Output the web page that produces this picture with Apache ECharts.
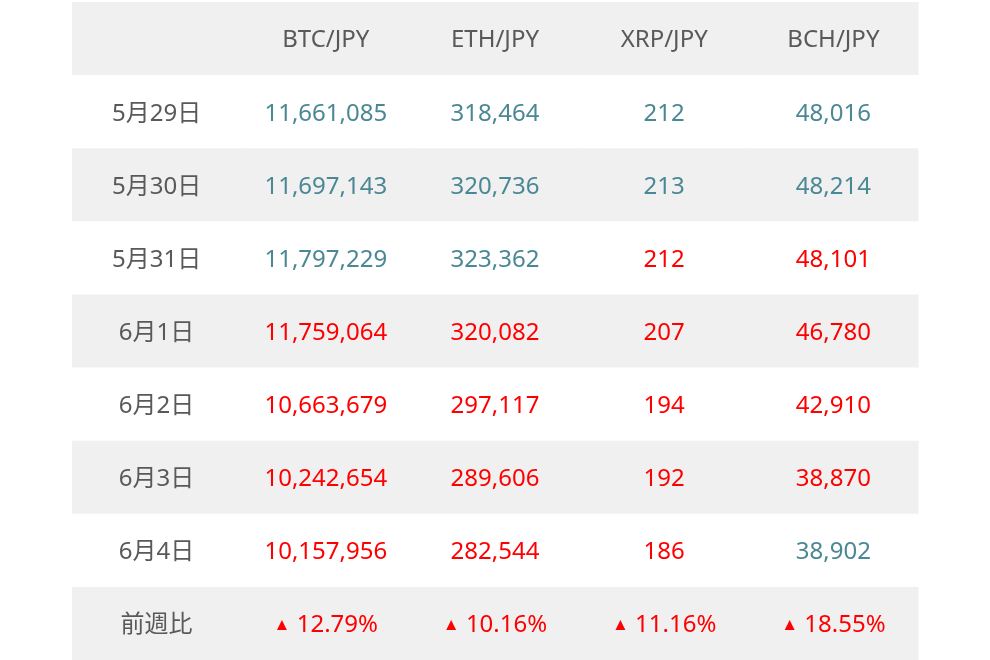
<!DOCTYPE html>
<html><head><meta charset="utf-8">
<script src="https://cdn.jsdelivr.net/npm/echarts@6/dist/echarts.min.js"></script>
<style>html,body{margin:0;background:#fff}#main{width:990px;height:660px}</style>
</head><body><div id="main"></div>
<script>
// table content
const columns = ['', 'BTC/JPY', 'ETH/JPY', 'XRP/JPY', 'BCH/JPY'];
const dates = ['5月29日', '5月30日', '5月31日', '6月1日', '6月2日', '6月3日', '6月4日'];
const btc = ['11,661,085', '11,697,143', '11,797,229', '11,759,064', '10,663,679', '10,242,654', '10,157,956'];
const eth = ['318,464', '320,736', '323,362', '320,082', '297,117', '289,606', '282,544'];
const xrp = ['212', '213', '212', '207', '194', '192', '186'];
const bch = ['48,016', '48,214', '48,101', '46,780', '42,910', '38,870', '38,902'];
// 1 = red, 0 = teal
const btcRed = [0, 0, 0, 1, 1, 1, 1];
const ethRed = [0, 0, 0, 1, 1, 1, 1];
const xrpRed = [0, 0, 1, 1, 1, 1, 1];
const bchRed = [0, 0, 1, 1, 1, 1, 0];
const weekLabel = '前週比';
const weekChange = ['12.79%', '10.16%', '11.16%', '18.55%'];

const rows = ['header'].concat(dates, ['week']);
const cells = [];
columns.forEach((c, i) => cells.push([i, 0, c, 'grey']));
const vals = [btc, eth, xrp, bch];
const reds = [btcRed, ethRed, xrpRed, bchRed];
dates.forEach((d, r) => {
    cells.push([0, r + 1, d, 'grey']);
    vals.forEach((v, k) => cells.push([k + 1, r + 1, v[r], reds[k][r] ? 'red' : 'teal']));
});
cells.push([0, 8, weekLabel, 'grey']);
weekChange.forEach((w, k) => cells.push([k + 1, 8, w, 'up']));

const colorMap = { grey: '#595959', red: '#ff0000', up: '#ff0000', teal: '#4a8895' };
const font = '24px "Noto Sans", "Noto Sans CJK JP", sans-serif';

const chart = echarts.init(document.getElementById('main'));
chart.setOption({
    animation: false,
    grid: { left: 72, right: 72, top: 2, bottom: -2 },
    xAxis: { type: 'category', data: columns.map((c, i) => i), show: false },
    yAxis: { type: 'category', data: rows, inverse: true, show: false },
    series: [{
        type: 'custom',
        data: cells,
        renderItem: (params, api) => {
            const p = api.coord([api.value(0), api.value(1)]);
            const s = api.size([1, 1]);
            const row = api.value(1);
            const item = cells[params.dataIndex];
            const isUp = item[3] === 'up';
            return {
                type: 'group',
                children: [{
                    type: 'rect',
                    shape: { x: p[0] - s[0] / 2, y: p[1] - s[1] / 2, width: s[0] + 0.5, height: s[1] + 0.5 },
                    style: { fill: row % 2 === 0 ? '#f0f0f0' : '#ffffff' }
                }, {
                    type: 'text',
                    x: p[0], y: p[1] + 2,
                    style: {
                        text: isUp ? '{t|▲} ' + item[2] : item[2], fill: colorMap[item[3]],
                        font: font,
                        rich: { t: { fontSize: 17, fill: '#ff0000' } },
                        align: 'center', verticalAlign: 'middle'
                    }
                }]
            };
        }
    }]
});
</script></body></html>
